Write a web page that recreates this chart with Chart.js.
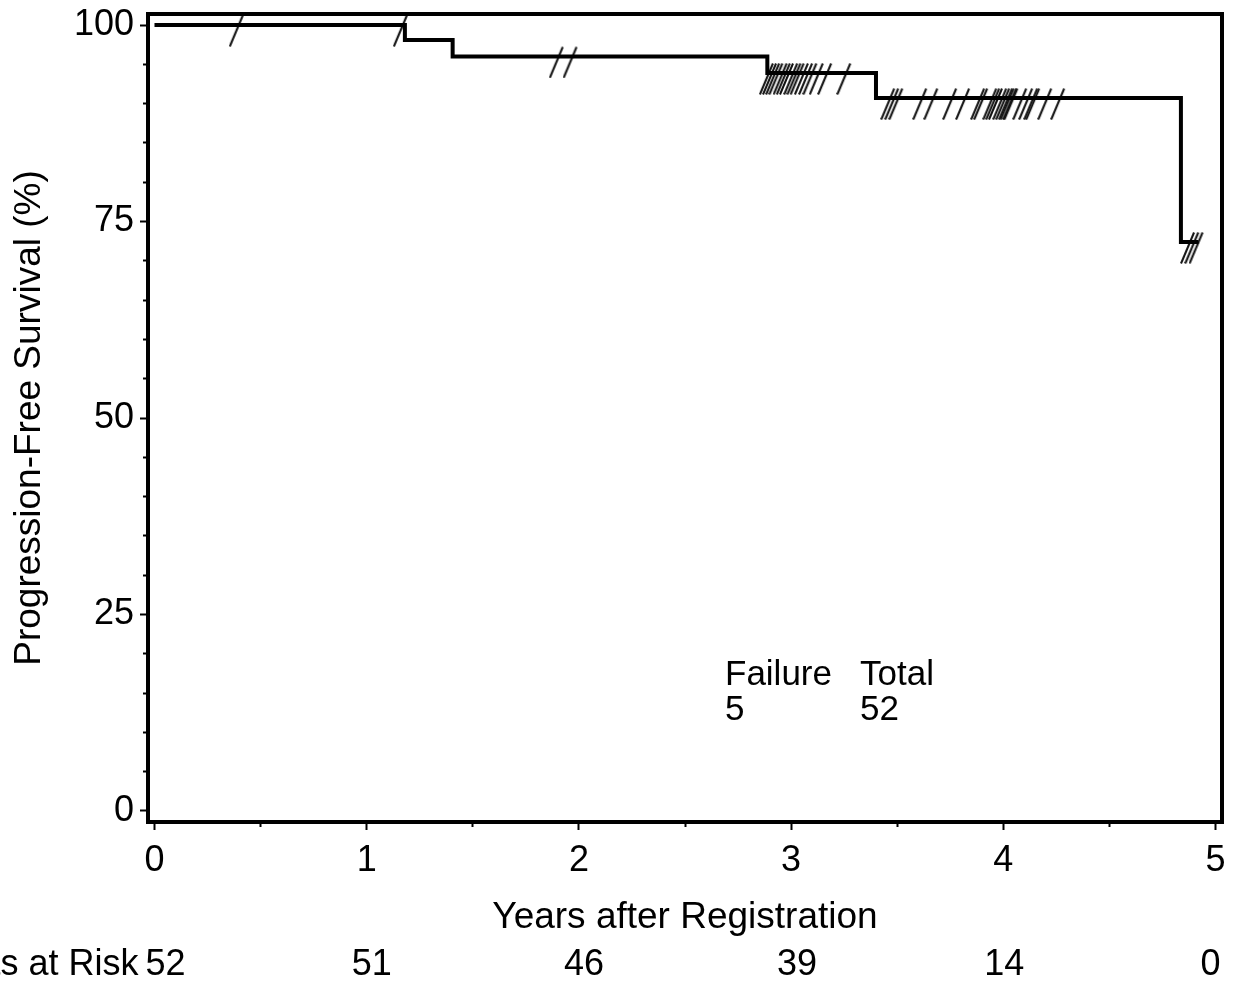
<!DOCTYPE html>
<html>
<head>
<meta charset="utf-8">
<script src="https://cdn.jsdelivr.net/npm/chart.js@4.4.0/dist/chart.umd.min.js"></script>
<style>
  html, body { margin: 0; padding: 0; background: #fff; }
  #chart { display: block; }
</style>
</head>
<body>
<canvas id="chart" width="1239" height="985"></canvas>
<script>
// Kaplan-Meier curve, progression-free survival (%)
const stepTimes    = [0, 1.18, 1.405, 2.888, 3.40, 4.837, 4.92];
const stepSurvival = [100, 98.1, 96.0, 93.9, 90.7, 72.4, 72.4];

// censored observations (years)
const censorTimes = [
  0.397, 1.17,
  1.905, 1.97,
  2.895, 2.91, 2.925, 2.94, 2.96, 2.975, 2.99, 3.01, 3.025, 3.04, 3.06, 3.08, 3.10, 3.13, 3.17, 3.26,
  3.467, 3.486, 3.505, 3.618, 3.67, 3.759, 3.82, 3.891, 3.905, 3.948, 3.962, 3.975, 3.995, 4.009,
  4.023, 4.03, 4.042, 4.047, 4.089, 4.117, 4.141, 4.15, 4.207, 4.268,
  4.88, 4.90, 4.92
];

// axes
const xTickValues  = [0, 1, 2, 3, 4, 5];
const xMinorValues = [0.5, 1.5, 2.5, 3.5, 4.5];
const yTickValues  = [0, 25, 50, 75, 100];
const yMinorValues = [5, 10, 15, 20, 30, 35, 40, 45, 55, 60, 65, 70, 80, 85, 90, 95];

// numbers at risk
const riskTimes  = [0, 1, 2, 3, 4, 5];
const riskCounts = [52, 51, 46, 39, 14, 0];

// summary block
const summaryHeaders = ['Failure', 'Total'];
const summaryValues  = [5, 52];

const FONT_FAMILY = '"Liberation Sans", Arial, Helvetica, sans-serif';
const X_MIN = -0.0306, X_MAX = 5.0306;
const Y_MIN = -1.40, Y_MAX = 101.40;

Chart.defaults.font.family = FONT_FAMILY;
Chart.defaults.font.size = 36;
Chart.defaults.color = '#000';

// survival value at time t (value of the last step at or before t)
function survivalAt(t) {
  let s = stepSurvival[0];
  for (let i = 0; i < stepTimes.length; i++) {
    if (stepTimes[i] <= t) s = stepSurvival[i];
  }
  return s;
}

// slanted censor tick, crossing the curve a bit above its middle
function makeCensorMark() {
  const c = document.createElement('canvas');
  c.width = 20;
  c.height = 44;
  const g = c.getContext('2d');
  g.strokeStyle = '#111';
  g.lineWidth = 2;
  g.beginPath();
  g.moveTo(14, 12.5);
  g.lineTo(1, 43.5);
  g.stroke();
  return c;
}

const curveData = stepTimes.map((t, i) => ({ x: t, y: stepSurvival[i] }));
const censorData = censorTimes.map(t => ({ x: t, y: survivalAt(t) }));

function fixTicks(values) {
  return scale => { scale.ticks = values.map(v => ({ value: v })); };
}
function fitHeight(h) {
  return s => { s.height = h; s.paddingLeft = 0; s.paddingRight = 0; };
}
function fitWidth(w) {
  return s => { s.width = w; s.paddingTop = 0; s.paddingBottom = 0; };
}

// frame, summary block and numbers at risk
const decorPlugin = {
  id: 'decor',
  afterDraw(chart) {
    const { ctx, chartArea: a, scales } = chart;
    ctx.save();
    ctx.strokeStyle = '#000';
    ctx.lineWidth = 4;
    ctx.strokeRect(a.left, a.top, a.right - a.left, a.bottom - a.top);

    ctx.fillStyle = '#000';
    ctx.font = '35px ' + FONT_FAMILY;
    ctx.textBaseline = 'alphabetic';
    ctx.textAlign = 'left';
    const colX = [725, 860];
    summaryHeaders.forEach((h, i) => ctx.fillText(h, colX[i], 685));
    summaryValues.forEach((v, i) => ctx.fillText(String(v), colX[i], 720));

    ctx.font = '36px ' + FONT_FAMILY;
    ctx.textAlign = 'center';
    const shift = [11, 5, 5, 6, 1, -5];
    riskTimes.forEach((t, i) => {
      ctx.fillText(String(riskCounts[i]), scales.x.getPixelForValue(t) + shift[i], 975);
    });
    ctx.textAlign = 'right';
    ctx.fillText('Patients at Risk', scales.x.getPixelForValue(0) - 16, 975);
    ctx.restore();
  }
};

new Chart(document.getElementById('chart'), {
  type: 'line',
  data: {
    datasets: [
      {
        label: 'PFS',
        data: curveData,
        stepped: 'before',
        borderColor: '#000',
        borderWidth: 4,
        pointRadius: 0,
        fill: false
      },
      {
        type: 'scatter',
        label: 'Censored',
        data: censorData,
        showLine: false,
        pointStyle: makeCensorMark(),
        pointRadius: 4,
        clip: false
      }
    ]
  },
  plugins: [decorPlugin],
  options: {
    responsive: false,
    animation: false,
    devicePixelRatio: 1,
    layout: { padding: { top: 14, right: 17, bottom: 0, left: 0 } },
    plugins: { legend: { display: false }, tooltip: { enabled: false } },
    scales: {
      x: {
        type: 'linear',
        position: 'bottom',
        weight: 1,
        min: X_MIN,
        max: X_MAX,
        afterBuildTicks: fixTicks(xTickValues),
        afterFit: fitHeight(163),
        border: { display: false },
        grid: { drawOnChartArea: false, tickLength: 8, tickWidth: 2, tickColor: '#000' },
        ticks: { autoSkip: false, maxRotation: 0, padding: 9, callback: v => String(v) },
        title: {
          display: true,
          text: 'Years after Registration',
          font: { size: 37 },
          padding: { top: 0, bottom: 45 }
        }
      },
      xMinor: {
        type: 'linear',
        position: 'bottom',
        weight: 0,
        min: X_MIN,
        max: X_MAX,
        afterBuildTicks: fixTicks(xMinorValues),
        afterFit: fitHeight(0),
        border: { display: false },
        grid: { drawOnChartArea: false, tickLength: 5, tickWidth: 2, tickColor: '#000' },
        ticks: { display: false }
      },
      y: {
        type: 'linear',
        position: 'left',
        weight: 1,
        min: Y_MIN,
        max: Y_MAX,
        afterBuildTicks: fixTicks(yTickValues),
        afterFit: fitWidth(148),
        border: { display: false },
        grid: { drawOnChartArea: false, tickLength: 8, tickWidth: 2, tickColor: '#000' },
        ticks: { autoSkip: false, padding: 6, callback: v => String(v) },
        title: {
          display: true,
          text: 'Progression-Free Survival (%)',
          font: { size: 37 },
          padding: { top: 8, bottom: 0 }
        }
      },
      yMinor: {
        type: 'linear',
        position: 'left',
        weight: 0,
        min: Y_MIN,
        max: Y_MAX,
        afterBuildTicks: fixTicks(yMinorValues),
        afterFit: fitWidth(0),
        border: { display: false },
        grid: { drawOnChartArea: false, tickLength: 5, tickWidth: 2, tickColor: '#000' },
        ticks: { display: false }
      }
    }
  }
});
</script>
</body>
</html>
